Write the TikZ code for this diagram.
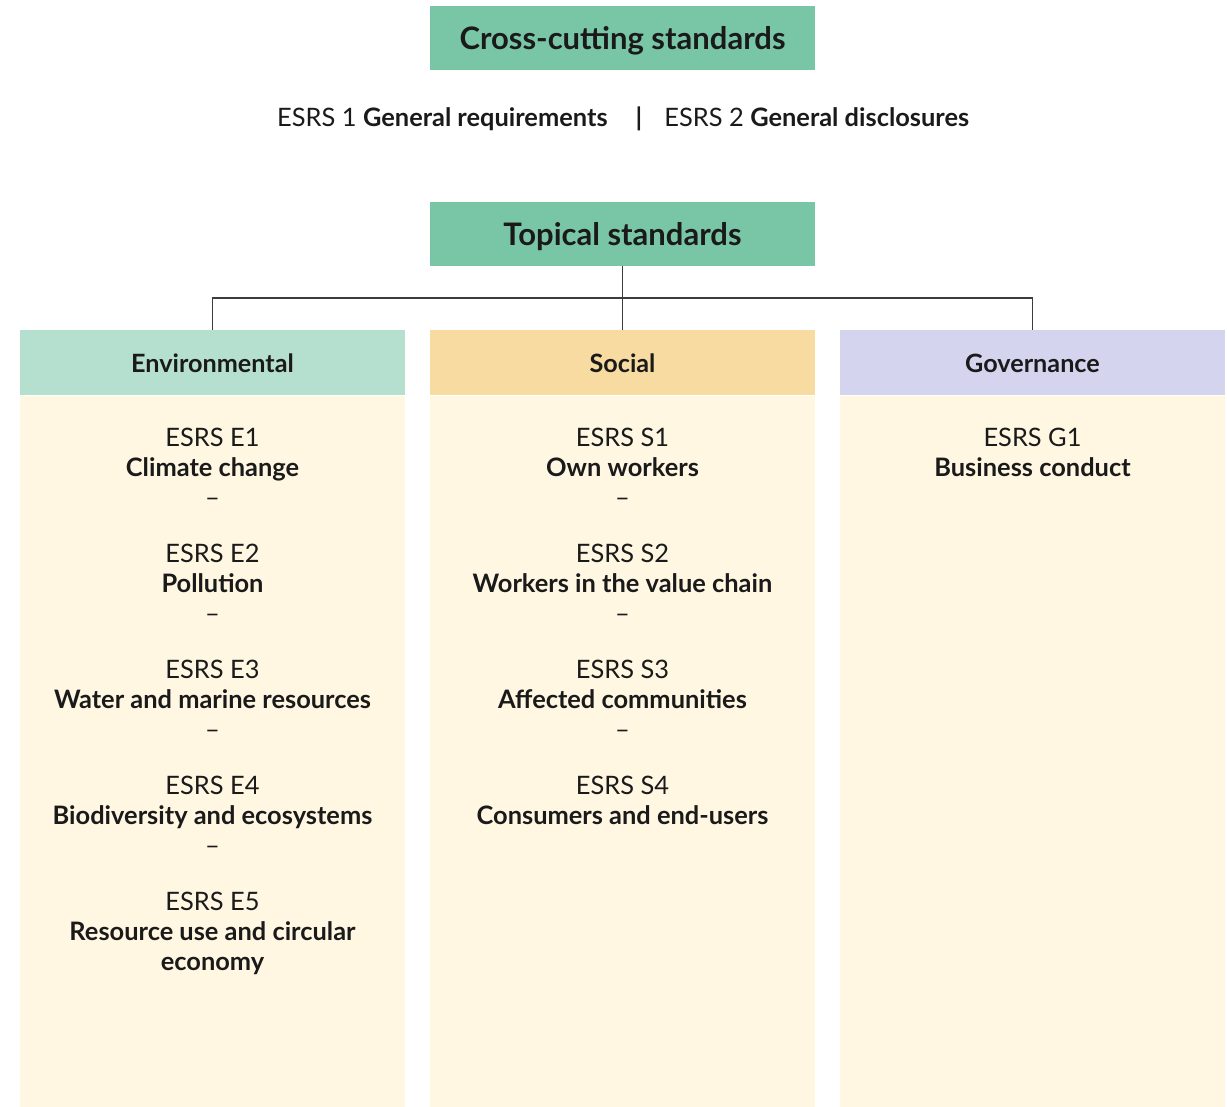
\documentclass[tikz,border=0pt]{standalone}
\usepackage{fontspec}
\setmainfont{Lato}
\usetikzlibrary{positioning}

\definecolor{titlegreen}{HTML}{79C6A7}
\definecolor{envgreen}{HTML}{B5E0CF}
\definecolor{socyellow}{HTML}{F7DBA0}
\definecolor{govblue}{HTML}{D4D4EE}
\definecolor{paleback}{HTML}{FFF7E2}
\definecolor{inkgray}{HTML}{1A1A1A}

\tikzset{
  titlebox/.style={fill=titlegreen, minimum width=192.5pt, minimum height=32pt,
    inner sep=0pt, text height=13pt, text depth=1.5pt,
    font=\fontsize{15.5}{18}\selectfont\bfseries},
  headbox/.style={minimum width=192.5pt, minimum height=32.5pt, inner sep=0pt,
    text height=11pt, text depth=1.5pt, font=\fontsize{12.6}{14}\selectfont\bfseries},
  bodybox/.style={fill=paleback, minimum width=192.5pt, minimum height=355.5pt,
    inner sep=0pt, anchor=north},
  item/.style={align=center, anchor=north, inner sep=0pt,
    font=\fontsize{12.7}{14.9}\selectfont},
  link/.style={draw=inkgray!85, line width=0.6pt}
}

\begin{document}
\begin{tikzpicture}[x=0.5pt, y=-0.5pt, text=inkgray]
  \useasboundingbox (0,0) rectangle (1227,1107);

  % Cross-cutting standards
  \node[titlebox] (cross) at (622.5, 38) {Cross-cutting standards};
  \node[item, anchor=base east] (esrs1) at (608, 127) {ESRS 1 \textbf{General requirements}};
  \node[item, anchor=base, font=\fontsize{12.7}{14}\selectfont\bfseries] (bar) at (639, 127) {|};
  \node[item, anchor=base west] (esrs2) at (664, 127) {ESRS 2 \textbf{General disclosures}};

  % Topical standards and its three pillars
  \node[titlebox] (topical) at (622.5, 234) {Topical standards};
  \node[headbox, fill=envgreen] (env) at (212.5, 362.5) {Environmental};
  \node[headbox, fill=socyellow] (soc) at (622.5, 362.5) {Social};
  \node[headbox, fill=govblue] (gov) at (1032.5, 362.5) {Governance};
  \node[bodybox] (envbody) at (env.south) {};
  \node[bodybox] (socbody) at (soc.south) {};
  \node[bodybox] (govbody) at (gov.south) {};

  % Tree lines
  \coordinate (bus) at (622.5, 298);
  \draw[link] (topical.south) -- (soc.north);
  \draw[link] (env.north) |- (bus) -| (gov.north);

  % Environmental items
  \foreach \i/\name in {1/Climate change, 2/Pollution, 3/Water and marine resources, 4/Biodiversity and ecosystems} {
    \node[item] (e\i) at (212.5, {428+(\i-1)*116}) {ESRS E\i\\\textbf{\name}\\–};
  }
  \node[item] (e5) at (212.5, 892) {ESRS E5\\\textbf{Resource use and circular}\\\textbf{economy}};

  % Social items
  \foreach \i/\name in {1/Own workers, 2/Workers in the value chain, 3/Affected communities} {
    \node[item] (s\i) at (622.5, {428+(\i-1)*116}) {ESRS S\i\\\textbf{\name}\\–};
  }
  \node[item] (s4) at (622.5, 776) {ESRS S4\\\textbf{Consumers and end-users}};

  % Governance item
  \node[item] (g1) at (1032.5, 428) {ESRS G1\\\textbf{Business conduct}};
\end{tikzpicture}
\end{document}
